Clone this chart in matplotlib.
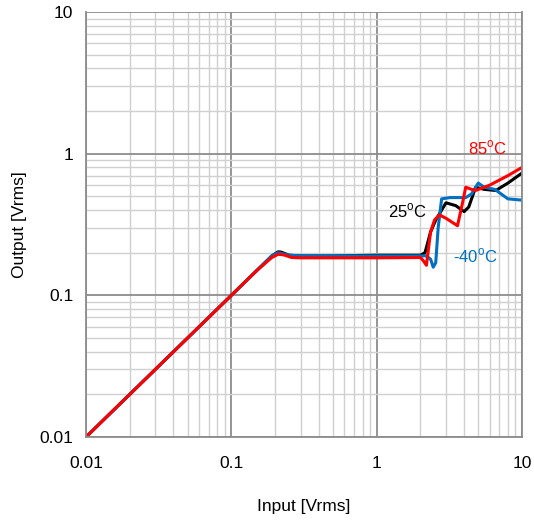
import matplotlib.pyplot as plt

plt.rcParams['font.family'] = ['Liberation Sans', 'DejaVu Sans']

# 25 C
x25 = [0.01, 0.02, 0.05, 0.1, 0.15, 0.19, 0.21, 0.22, 0.25, 0.3, 0.5, 1.0, 2.0, 2.15, 2.35,
       2.55, 2.8, 3.0, 3.5, 4.0, 4.3, 4.8, 5.5, 6.6, 8.0, 10.0]
y25 = [0.01, 0.02, 0.05, 0.1, 0.15, 0.19, 0.203, 0.202, 0.192, 0.19, 0.19, 0.192, 0.192, 0.2, 0.28,
       0.34, 0.4, 0.45, 0.43, 0.39, 0.42, 0.58, 0.56, 0.55, 0.62, 0.73]

# -40 C
xm40 = [0.01, 0.02, 0.05, 0.1, 0.15, 0.19, 0.21, 0.22, 0.25, 0.3, 0.5, 1.0, 2.2, 2.35,
        2.45, 2.55, 2.65, 2.8, 3.2, 4.1, 4.5, 5.0, 5.5, 6.5, 8.0, 10.0]
ym40 = [0.01, 0.02, 0.05, 0.1, 0.15, 0.19, 0.2, 0.198, 0.192, 0.19, 0.19, 0.19, 0.19, 0.18,
        0.158, 0.17, 0.3, 0.48, 0.49, 0.49, 0.52, 0.62, 0.58, 0.56, 0.48, 0.47]

# 85 C
x85 = [0.01, 0.02, 0.05, 0.1, 0.15, 0.19, 0.21, 0.23, 0.26, 0.3, 0.5, 1.0, 2.0, 2.1,
       2.2, 2.35, 2.5, 2.7, 3.0, 3.6, 3.9, 4.1, 4.5, 4.8, 6.0, 8.0, 10.0]
y85 = [0.01, 0.02, 0.05, 0.1, 0.15, 0.185, 0.195, 0.193, 0.185, 0.184, 0.184, 0.184, 0.185, 0.175,
       0.163, 0.28, 0.34, 0.37, 0.35, 0.31, 0.45, 0.58, 0.56, 0.55, 0.6, 0.7, 0.8]

fig = plt.figure(figsize=(5.34, 5.23), dpi=100)
ax = fig.add_axes([0.161, 0.1644, 0.8165, 0.8126])

ax.plot(x25, y25, color='black', lw=2.2)
ax.plot(xm40, ym40, color='#0070C0', lw=2.2)
ax.plot(x85, y85, color='#FF0000', lw=2.2)

ax.set_xscale('log')
ax.set_yscale('log')
ax.set_xlim(0.01, 10)
ax.set_ylim(0.01, 10)
ax.set_xticks([0.01, 0.1, 1, 10])
ax.set_xticklabels(['0.01', '0.1', '1', '10'])
ax.set_yticks([0.01, 0.1, 1, 10])
ax.set_yticklabels(['0.01', '0.1', '1', '10'])

ax.grid(True, which='major', color='#8c8c8c', lw=1.3)
ax.grid(True, which='minor', color='#d0d0d0', lw=1.0)
ax.tick_params(which='both', length=0, labelsize=12.5)
ax.tick_params(axis='x', pad=14)
ax.tick_params(axis='y', pad=9)
for s in ax.spines.values():
    s.set_color('#8c8c8c')
    s.set_linewidth(1.3)
ax.spines['top'].set_visible(False)

ax.set_xlabel('Input [Vrms]', fontsize=12.5, labelpad=20)
ax.set_ylabel('Output [Vrms]', fontsize=12.5, labelpad=9)

ax.text(4.27, 1.10, '85$^\\mathregular{o}$C', color='#FF0000', fontsize=12, ha='left', va='center')
ax.text(1.19, 0.395, '25$^\\mathregular{o}$C', color='black', fontsize=12, ha='left', va='center')
ax.text(3.37, 0.19, '-40$^\\mathregular{o}$C', color='#0070C0', fontsize=12, ha='left', va='center')

fig.savefig('out.png', dpi=100)
